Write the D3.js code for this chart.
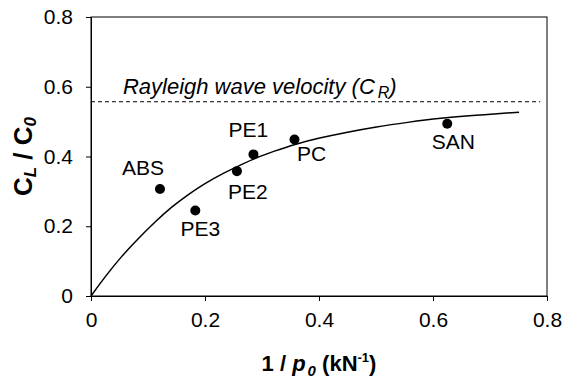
<!DOCTYPE html>
<html>
<head>
<meta charset="utf-8">
<script src="https://cdn.jsdelivr.net/npm/d3@7"></script>
<style>
  body { margin: 0; background: #fff; }
  svg { font-family: "Liberation Sans", Arial, sans-serif; }
  .axis text { font-size: 21px; fill: #000; }
  .axis path, .axis line { stroke: #000; stroke-width: 1; }
</style>
</head>
<body>
<div id="chart"></div>
<script>
// measured points
var materials = ["ABS", "PE3", "PE2", "PE1", "PC", "SAN"];
var invLoad = [0.121, 0.183, 0.256, 0.285, 0.357, 0.625];
var speedRatio = [0.307, 0.245, 0.358, 0.406, 0.449, 0.494];

// fitted curve
var curveX = [0, 0.025, 0.053, 0.083, 0.112, 0.141, 0.171, 0.2, 0.229, 0.262, 0.29, 0.321, 0.357, 0.4, 0.45, 0.5, 0.555, 0.614, 0.672, 0.751];
var curveY = [0, 0.056, 0.113, 0.165, 0.212, 0.255, 0.292, 0.323, 0.35, 0.375, 0.397, 0.415, 0.435, 0.453, 0.47, 0.485, 0.498, 0.51, 0.518, 0.527];

// Rayleigh wave level
var rayleighY = 0.557;
var rayleighX = [0, 0.788];

var xTicks = [0, 0.2, 0.4, 0.6, 0.8];
var yTicks = [0, 0.2, 0.4, 0.6, 0.8];

// label offsets relative to each point [dx, dy]
var labelOffsets = {
  ABS: [-17, -14], PE3: [5, 25], PE2: [11, 28], PE1: [-5, -17], PC: [17, 22], SAN: [6, 25]
};

var margin = { top: 17, right: 15, bottom: 86, left: 91 };
var width = 562 - margin.left - margin.right;
var height = 382 - margin.top - margin.bottom;

var svg = d3.select("#chart").append("svg")
  .attr("width", 562).attr("height", 382);
var g = svg.append("g")
  .attr("transform", "translate(" + margin.left + "," + margin.top + ")");

var x = d3.scaleLinear().domain([0, 0.8]).range([0, width]);
var y = d3.scaleLinear().domain([0, 0.8]).range([height, 0]);

var fmt = function (d) { return d === 0 ? "0" : d3.format(".1f")(d); };

g.append("g").attr("class", "axis")
  .attr("transform", "translate(0," + height + ")")
  .call(d3.axisBottom(x).tickValues(xTicks).tickFormat(fmt).tickSize(5).tickSizeOuter(0).tickPadding(11));

g.append("g").attr("class", "axis")
  .call(d3.axisLeft(y).tickValues(yTicks).tickFormat(fmt).tickSize(5).tickSizeOuter(0).tickPadding(13));

// frame
g.append("rect")
  .attr("x", 0).attr("y", 0).attr("width", width).attr("height", height)
  .attr("fill", "none").attr("stroke", "#000").attr("stroke-width", 1);

// dashed Rayleigh line
g.append("line")
  .attr("x1", x(rayleighX[0])).attr("x2", x(rayleighX[1]))
  .attr("y1", y(rayleighY)).attr("y2", y(rayleighY))
  .attr("stroke", "#000").attr("stroke-width", 1).attr("stroke-dasharray", "4,3");

var rt = g.append("text")
  .attr("x", x(0.056)).attr("y", y(rayleighY) - 8)
  .attr("font-size", "22px").attr("font-style", "italic");
rt.append("tspan").text("Rayleigh wave velocity (C");
rt.append("tspan").attr("font-size", "16px").attr("dy", 4).attr("dx", 3).text("R");
rt.append("tspan").attr("dy", -4).text(")");

// curve
var curvePts = curveX.map(function (d, i) { return [d, curveY[i]]; });
g.append("path")
  .datum(curvePts)
  .attr("fill", "none").attr("stroke", "#000").attr("stroke-width", 1.5)
  .attr("d", d3.line()
    .x(function (d) { return x(d[0]); })
    .y(function (d) { return y(d[1]); })
    .curve(d3.curveBasis));

// points
var pts = materials.map(function (m, i) {
  return { name: m, x: invLoad[i], y: speedRatio[i] };
});

g.selectAll(".dot").data(pts).enter().append("circle")
  .attr("class", "dot")
  .attr("cx", function (d) { return x(d.x); })
  .attr("cy", function (d) { return y(d.y); })
  .attr("r", 5).attr("fill", "#000");

g.selectAll(".lbl").data(pts).enter().append("text")
  .attr("class", "lbl")
  .attr("x", function (d) { return x(d.x) + labelOffsets[d.name][0]; })
  .attr("y", function (d) { return y(d.y) + labelOffsets[d.name][1]; })
  .attr("text-anchor", "middle")
  .attr("font-size", "21px")
  .text(function (d) { return d.name; });

// x title
var xt = svg.append("text")
  .attr("x", margin.left + width / 2).attr("y", 371)
  .attr("text-anchor", "middle").attr("font-size", "22px").attr("font-weight", "bold");
xt.append("tspan").text("1 / ");
xt.append("tspan").attr("font-style", "italic").text("p");
xt.append("tspan").attr("font-style", "italic").attr("font-size", "15px").attr("dy", 5).attr("dx", 2).text("0");
xt.append("tspan").attr("dy", -5).text(" (kN");
xt.append("tspan").attr("font-size", "13px").attr("dy", -9).text("-1");
xt.append("tspan").attr("dy", 9).text(")");

// y title
var yt = svg.append("text")
  .attr("transform", "translate(32," + (margin.top + height / 2) + ") rotate(-90)")
  .attr("text-anchor", "middle").attr("font-size", "26px").attr("font-weight", "bold");
yt.append("tspan").text("C");
yt.append("tspan").attr("font-style", "italic").attr("font-size", "17px").attr("dy", 4).text("L");
yt.append("tspan").attr("dy", -4).text(" / C");
yt.append("tspan").attr("font-style", "italic").attr("font-size", "17px").attr("dy", 4).text("0");
</script>
</body>
</html>
